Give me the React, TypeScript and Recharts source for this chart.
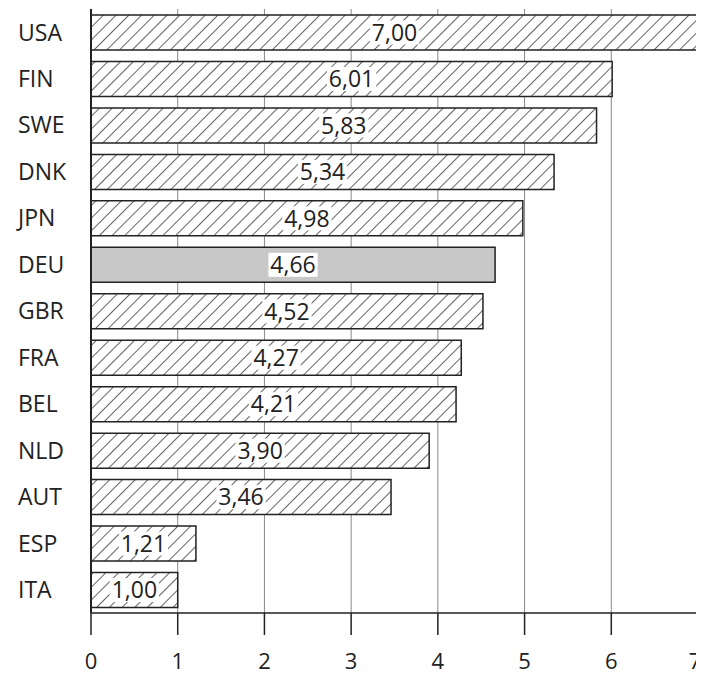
import React from "react";
import { BarChart, Bar, XAxis, YAxis, CartesianGrid, Cell, LabelList } from "recharts";

const countries = ["USA", "FIN", "SWE", "DNK", "JPN", "DEU", "GBR", "FRA", "BEL", "NLD", "AUT", "ESP", "ITA"];
const values = [7.0, 6.01, 5.83, 5.34, 4.98, 4.66, 4.52, 4.27, 4.21, 3.9, 3.46, 1.21, 1.0];
const xTicks = [0, 1, 2, 3, 4, 5, 6, 7];
const highlighted = "DEU";

const data = countries.map((c, i) => ({ country: c, value: values[i] }));

const FONT = "'Open Sans', sans-serif";
const FS = 23;

const fmt = (v: number) => v.toFixed(2).replace(".", ",");

const textWidth = (s: string) => {
  let w = 0;
  for (const ch of s) w += ch === "," ? 0.25 : 0.572;
  return w * FS;
};

const BarLabel = (props: any) => {
  const { x, y, width, height, value } = props;
  const s = fmt(Number(value));
  const cx = x + width / 2;
  const cy = y + height / 2;
  return (
    <text x={cx} y={cy} dy="0.36em" textAnchor="middle" fontFamily={FONT} fontSize={FS} fill="#222">
      {s}
    </text>
  );
};

const LabelBg = (props: any) => {
  const { x, y, width, height, value } = props;
  const s = fmt(Number(value));
  const cx = x + width / 2;
  const cy = y + height / 2;
  const tw = textWidth(s) + 4;
  return <rect x={cx - tw / 2} y={cy - 12} width={tw} height={24} fill="url(#bgfill)" />;
};

const YTick = (props: any) => {
  const { y, payload } = props;
  return (
    <text x={10} y={y} dy="0.36em" textAnchor="start" fontFamily={FONT} fontSize={FS} fill="#222">
      {payload.value}
    </text>
  );
};

const XTick = (props: any) => {
  const { x, y, payload } = props;
  const last = payload.value === xTicks[xTicks.length - 1];
  return (
    <text x={last ? x - 3 : x} y={y} dy="0.71em" textAnchor="middle" fontFamily={FONT} fontSize={22} fill="#222">
      {payload.value}
    </text>
  );
};

export default function App() {
  return (
    <div style={{ position: "relative", width: 696, height: 668 }}>
      <svg width={0} height={0} style={{ position: "absolute" }}>
        <defs>
          <pattern id="hatch" patternUnits="userSpaceOnUse" width={9} height={9} patternTransform="rotate(45)">
            <rect x={0} y={0} width={9} height={9} fill="#fff" />
            <line x1={0} y1={0} x2={0} y2={9} stroke="#222" strokeWidth={1.4} />
          </pattern>
          <pattern id="bgfill" patternUnits="userSpaceOnUse" width={4} height={4}>
            <rect x={0} y={0} width={4} height={4} fill="#fff" />
          </pattern>
        </defs>
      </svg>
      <BarChart
        width={696}
        height={668}
        data={data}
        layout="vertical"
        margin={{ top: 1, right: 6, left: 0, bottom: 0 }}
        barSize={35}
      >
        <CartesianGrid horizontal={false} vertical={true} stroke="#888" strokeWidth={1} />
        <XAxis
          type="number"
          dataKey="value"
          domain={[0, 7]}
          ticks={xTicks}
          height={63}
          tickSize={22}
          tickMargin={18}
          axisLine={{ stroke: "#222", strokeWidth: 1.5 }}
          tickLine={{ stroke: "#222", strokeWidth: 1.5 }}
          tick={<XTick />}
          interval={0}
        />
        <XAxis
          xAxisId="top"
          type="number"
          orientation="top"
          domain={[0, 7]}
          ticks={xTicks}
          height={0}
          tick={false}
          tickLine={false}
          axisLine={{ stroke: "#444", strokeWidth: 1.5 }}
        />
        <YAxis
          type="category"
          dataKey="country"
          width={83}
          tick={<YTick />}
          tickLine={false}
          axisLine={{ stroke: "#222", strokeWidth: 2 }}
          interval={0}
        />
        <Bar dataKey="value" isAnimationActive={false} stroke="#222" strokeWidth={1.5}>
          {data.map((d) => (
            <Cell key={d.country} fill={d.country === highlighted ? "#c8c8c8" : "url(#hatch)"} />
          ))}
          <LabelList dataKey="value" content={<LabelBg />} />
          <LabelList dataKey="value" content={<BarLabel />} />
        </Bar>
      </BarChart>
    </div>
  );
}
